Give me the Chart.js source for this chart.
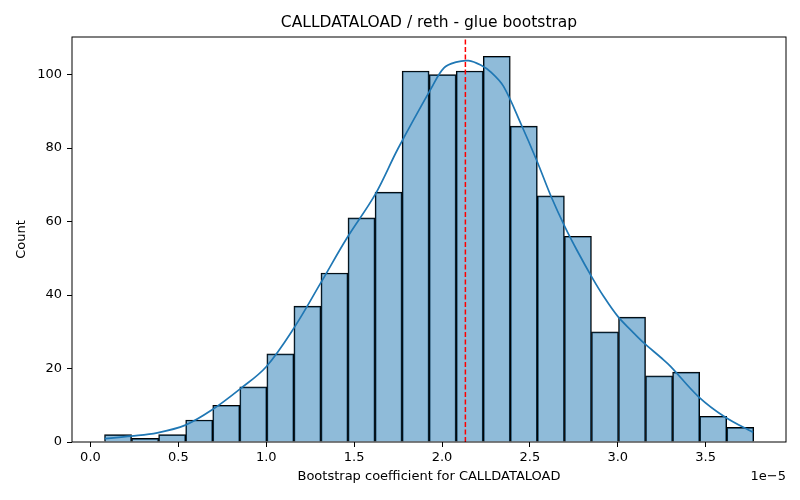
<!DOCTYPE html>
<html>
<head>
<meta charset="utf-8">
<script src="https://cdn.jsdelivr.net/npm/chart.js@4.4.0/dist/chart.umd.min.js"></script>
<style>body{margin:0;background:#fff}</style>
</head>
<body>
<canvas id="histChart" width="800" height="500"></canvas>
<script>
// histogram bins (x in units of 1e-5)
var binStart = 0.08;
var binWidth = 0.1539;
var counts = [2, 1, 2, 6, 10, 15, 24, 37, 46, 61, 68, 101, 100, 101, 105, 86, 67, 56, 30, 34, 18, 19, 7, 4];

// kde curve
var kdeX = [0.08, 0.23, 0.38, 0.54, 0.69, 0.85, 1.0, 1.16, 1.31, 1.46, 1.62, 1.75, 1.94, 2.01, 2.08, 2.15, 2.22, 2.28, 2.35, 2.45, 2.54, 2.62, 2.70, 2.77, 2.85, 2.92, 3.0, 3.08, 3.15, 3.25, 3.30, 3.46, 3.61, 3.77];
var kdeY = [0.9, 1.6, 2.5, 4.6, 8.7, 14.4, 20.5, 31.2, 43.3, 55.6, 67.4, 79.9, 96.4, 101.8, 103.4, 103.8, 102.6, 100.6, 96.8, 86.5, 76.5, 66.9, 58.5, 52, 45.1, 39.6, 34.2, 30.2, 26.9, 22.8, 20.6, 12.3, 6.8, 2.6];

var meanX = 2.133;
var xTicks = [0, 0.5, 1, 1.5, 2, 2.5, 3, 3.5];
var yTicks = [0, 20, 40, 60, 80, 100];

var titleText = 'CALLDATALOAD / reth - glue bootstrap';
var xLabel = 'Bootstrap coefficient for CALLDATALOAD';
var yLabel = 'Count';
var offsetText = '1e\u22125';

var FONT = '"DejaVu Sans", sans-serif';

var barData = counts.map(function (c, i) {
    return { x: binStart + (i + 0.5) * binWidth, y: c };
});
var kdeData = kdeX.map(function (x, i) {
    return { x: x, y: kdeY[i] };
});

var decor = {
    id: 'decor',
    afterDraw: function (chart) {
        var c = chart.ctx, a = chart.chartArea;
        var cx = (a.left + a.right) / 2;
        c.save();
        c.strokeStyle = '#000';
        c.lineWidth = 1;
        c.strokeRect(a.left, a.top, a.right - a.left, a.bottom - a.top);
        c.fillStyle = '#000';
        c.textBaseline = 'middle';
        c.textAlign = 'center';
        c.font = '15.5px ' + FONT;
        c.fillText(titleText, cx, 23);
        c.font = '13px ' + FONT;
        c.fillText(xLabel, cx, 477);
        c.textAlign = 'right';
        c.fillText(offsetText, a.right, 477);
        c.translate(22, (a.top + a.bottom) / 2);
        c.rotate(-Math.PI / 2);
        c.textAlign = 'center';
        c.fillText(yLabel, 0, 0);
        c.restore();
    }
};

var ctx = document.getElementById('histChart').getContext('2d');
var histChart = new Chart(ctx, {
    type: 'bar',
    data: {
        datasets: [{
            type: 'bar',
            data: barData,
            backgroundColor: 'rgba(31, 119, 180, 0.5)',
            borderColor: '#000',
            borderWidth: 1,
            barPercentage: 1.0,
            categoryPercentage: 1.0,
            order: 3
        }, {
            type: 'line',
            data: kdeData,
            borderColor: '#1f77b4',
            borderWidth: 1.7,
            pointRadius: 0,
            tension: 0.35,
            fill: false,
            order: 2
        }, {
            type: 'line',
            data: [{ x: meanX, y: 0 }, { x: meanX, y: 110.25 }],
            borderColor: '#ff0000',
            borderWidth: 1.5,
            borderDash: [5, 2.5],
            pointRadius: 0,
            fill: false,
            order: 1
        }]
    },
    options: {
        responsive: false,
        animation: false,
        devicePixelRatio: 1,
        layout: { padding: { top: 37, right: 14, left: 0, bottom: 0 } },
        plugins: {
            legend: { display: false },
            tooltip: { enabled: false }
        },
        scales: {
            x: {
                type: 'linear',
                min: -0.105,
                max: 3.957,
                offset: false,
                afterFit: function (s) { s.height = 58; },
                afterBuildTicks: function (s) {
                    s.ticks = xTicks.map(function (v) { return { value: v }; });
                },
                grid: { offset: false, drawOnChartArea: false, drawTicks: true, tickLength: 5, tickColor: '#000' },
                border: { display: false },
                ticks: {
                    color: '#000',
                    padding: 3,
                    maxRotation: 0,
                    font: { family: FONT, size: 13 },
                    callback: function (v) { return v.toFixed(1); }
                }
            },
            y: {
                min: 0,
                max: 110.25,
                afterFit: function (s) { s.width = 72; },
                afterBuildTicks: function (s) {
                    s.ticks = yTicks.map(function (v) { return { value: v }; });
                },
                grid: { drawOnChartArea: false, drawTicks: true, tickLength: 5, tickColor: '#000' },
                border: { display: false },
                ticks: {
                    color: '#000',
                    padding: 5,
                    font: { family: FONT, size: 13 }
                }
            }
        }
    },
    plugins: [decor]
});
</script>
</body>
</html>
